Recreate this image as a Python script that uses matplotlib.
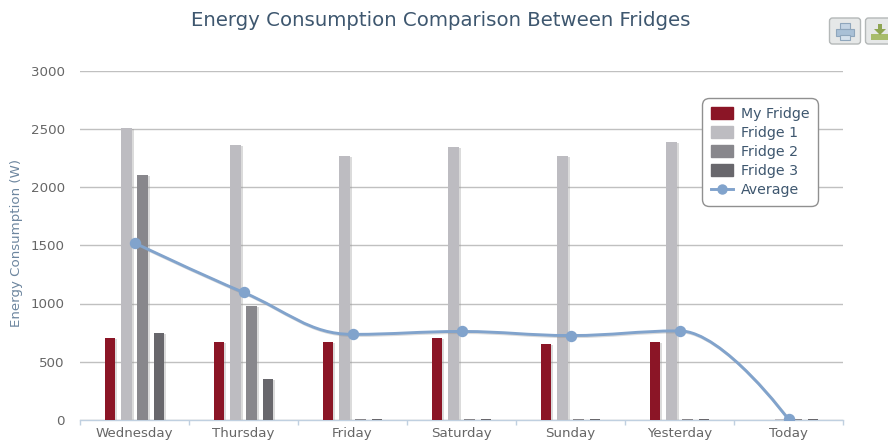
import matplotlib
matplotlib.use("Agg")
from matplotlib import pyplot as plt
from matplotlib.lines import Line2D
from matplotlib.patches import FancyBboxPatch, PathPatch, Patch, Rectangle
from matplotlib.path import Path
import matplotlib.patheffects as pe
import numpy as np

W, H = 888, 441

days = ["Wednesday", "Thursday", "Friday", "Saturday", "Sunday", "Yesterday", "Today"]
my_fridge = [700, 670, 670, 705, 650, 670, 0]
fridge_1 = [2510, 2360, 2270, 2340, 2270, 2390, 10]
fridge_2 = [2100, 980, 10, 10, 10, 10, 10]
fridge_3 = [750, 350, 10, 10, 10, 10, 10]
average = [1520, 1095, 735, 760, 725, 765, 5]
y_ticks = [0, 500, 1000, 1500, 2000, 2500, 3000]

series = [("My Fridge", my_fridge, "#8B1526"),
          ("Fridge 1", fridge_1, "#BDBCC1"),
          ("Fridge 2", fridge_2, "#88878C"),
          ("Fridge 3", fridge_3, "#68676C")]
LINE_COLOR = "#81A3CC"
TITLE_COLOR = "#3E576F"
LABEL_COLOR = "#666666"

plt.rcParams["font.family"] = "DejaVu Sans"


def spline_path(xs, ys):
    # same smoothing the original chart library uses for its spline series
    verts = [(xs[0], ys[0])]
    codes = [Path.MOVETO]
    n = len(xs)
    right = (xs[0], ys[0])
    for i in range(1, n):
        x, y = xs[i], ys[i]
        if i < n - 1:
            lx = (1.5 * x + xs[i - 1]) / 2.5
            ly = (1.5 * y + ys[i - 1]) / 2.5
            rx = (1.5 * x + xs[i + 1]) / 2.5
            ry = (1.5 * y + ys[i + 1]) / 2.5
            corr = (ry - ly) * (rx - x) / (rx - lx) + y - ry
            ly += corr
            ry += corr
            if ly > ys[i - 1] and ly > y:
                ly = max(ys[i - 1], y)
                ry = 2 * y - ly
            elif ly < ys[i - 1] and ly < y:
                ly = min(ys[i - 1], y)
                ry = 2 * y - ly
            if ry > ys[i + 1] and ry > y:
                ry = max(ys[i + 1], y)
                ly = 2 * y - ry
            elif ry < ys[i + 1] and ry < y:
                ry = min(ys[i + 1], y)
                ly = 2 * y - ry
        else:
            lx, ly, rx, ry = x, y, x, y
        verts += [right, (lx, ly), (x, y)]
        codes += [Path.CURVE4, Path.CURVE4, Path.CURVE4]
        right = (rx, ry)
    return Path(verts, codes)


fig = plt.figure(figsize=(W / 100, H / 100), dpi=100, facecolor="white")

# overlay in pixel coordinates, only for the export buttons
deco = fig.add_axes([0, 0, 1, 1], zorder=0)
deco.set_xlim(0, W)
deco.set_ylim(H, 0)
deco.axis("off")
for bx in (829.5, 865.5):
    deco.add_patch(FancyBboxPatch((bx + 2, 20), 27, 22, boxstyle="round,pad=2,rounding_size=3",
                                  fc="#E6E8E8", ec="#B4B8B8", lw=1, clip_on=False))
deco.add_patch(Rectangle((840, 23), 10, 6, fc="#C4D4E4", ec="#8FA6BC", lw=0.8))
deco.add_patch(Rectangle((836, 29), 18, 7, fc="#A9C0D6", ec="#8FA6BC", lw=0.8))
deco.add_patch(Rectangle((840, 35), 10, 5, fc="#D5E1EC", ec="#8FA6BC", lw=0.8))
deco.add_patch(Rectangle((871, 34), 18, 6, fc="#A8BC6C", ec="none"))
deco.add_patch(Rectangle((878, 24), 4, 6, fc="#8FA653", ec="none"))
deco.fill([874, 886, 880], [29, 29, 35], fc="#8FA653", ec="none")

ax = fig.add_axes([80 / W, (H - 420) / H, 763 / W, 349.5 / H], zorder=1)
ax.patch.set_alpha(0)
x = np.arange(len(days))

shadow = [pe.SimplePatchShadow(offset=(1.5, -0.7), shadow_rgbFace="#999999", alpha=0.35), pe.Normal()]
offsets = [-0.223, -0.075, 0.075, 0.225]
handles = []
for (name, vals, color), off in zip(series, offsets):
    bars = ax.bar(x + off, vals, width=0.095, color=color, zorder=3, label=name)
    for b in bars:
        b.set_path_effects(shadow)
    handles.append(Patch(facecolor=color, edgecolor=color, label=name))

curve = PathPatch(spline_path(list(x), average), fill=False, ec=LINE_COLOR, lw=2.1, zorder=4,
                  capstyle="round")
curve.set_path_effects([pe.SimpleLineShadow(offset=(0.8, -0.8), shadow_color="#888888", alpha=0.3),
                        pe.Normal()])
ax.add_patch(curve)
ax.plot(x, average, ls="none", marker="o", ms=7.2, mfc=LINE_COLOR, mec=LINE_COLOR, zorder=5)
handles.append(Line2D([0], [0], color=LINE_COLOR, lw=2.1, marker="o", ms=6.5, label="Average"))

ax.set_xlim(-0.5, len(days) - 0.5)
ax.set_ylim(0, 3000)
ax.set_yticks(y_ticks)
ax.set_xticks(x)
ax.set_xticklabels(days)
ax.set_xticks(np.arange(len(days) + 1) - 0.5, minor=True)
ax.grid(axis="y", color="#C0C0C0", lw=1, zorder=1)
ax.set_axisbelow(True)
for s in ("top", "right", "left"):
    ax.spines[s].set_visible(False)
ax.spines["bottom"].set_color("#C0D0E0")
ax.spines["bottom"].set_linewidth(1)
ax.tick_params(axis="y", length=0, pad=11, labelsize=9.6, labelcolor=LABEL_COLOR)
ax.tick_params(axis="x", which="major", length=0, pad=5, labelsize=9.6, labelcolor=LABEL_COLOR)
ax.tick_params(axis="x", which="minor", length=3.6, width=1, color="#C0D0E0")
fig.text(16.5 / W, (H - 243) / H, "Energy Consumption (W)", rotation=90, ha="center", va="center",
         color="#6D869F", fontsize=9.6)
fig.text(440.5 / W, (H - 21) / H, "Energy Consumption Comparison Between Fridges", ha="center", va="center",
         color=TITLE_COLOR, fontsize=14.2)

leg = ax.legend(handles=handles, loc="upper left", bbox_to_anchor=(702 / W, (H - 98) / H),
                bbox_transform=fig.transFigure, borderaxespad=0, borderpad=0.62, labelspacing=0.36,
                handlelength=1.55, handleheight=0.9, handletextpad=0.55, fontsize=10.2, labelcolor=TITLE_COLOR,
                fancybox=True, framealpha=1, facecolor="white", edgecolor="#909090")
leg.get_frame().set_linewidth(1)
leg.get_frame().set_boxstyle("round", pad=0, rounding_size=0.5)
leg.set_zorder(10)

fig.savefig("out.png", dpi=100)
